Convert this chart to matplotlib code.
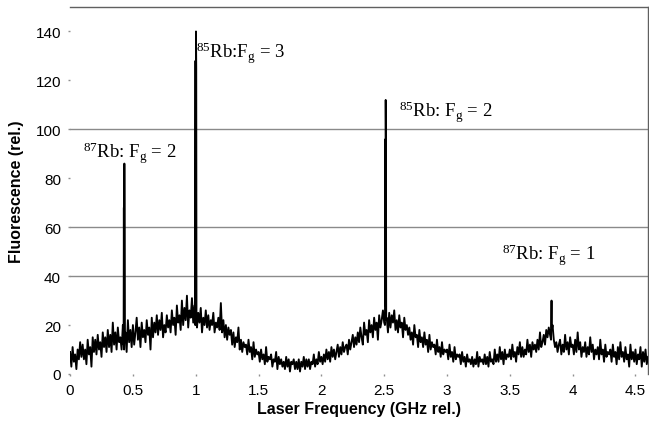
import numpy as np
import matplotlib
matplotlib.use("Agg")
import matplotlib.pyplot as plt

# ---------------- data ----------------
freq_start = 0.0
freq_step = 0.01
background = [
    9, 3, 11, 5, 8, 2, 10, 6, 13, 7,
    12, 6, 10, 4, 14, 8, 11, 3, 15, 9,
    14, 8, 16, 10, 13, 7, 17, 11, 15, 9,
    18, 11, 16, 9, 21, 12, 17, 10, 19, 13,
    15, 10, 20, 12, 17, 9, 22, 13, 18, 11,
    20, 12, 17, 23, 14, 19, 11, 21, 15, 18,
    13, 22, 16, 19, 10, 23, 15, 21, 17, 24,
    16, 22, 18, 25, 15, 20, 17, 24, 19, 22,
    17, 26, 20, 23, 16, 28, 21, 24, 18, 30,
    20, 27, 22, 32, 19, 26, 23, 31, 21, 28,
    24, 19, 25, 21, 27, 17, 23, 20, 26, 19,
    24, 18, 22, 20, 25, 17, 21, 19, 23, 18,
    29, 17, 22, 15, 20, 14, 19, 16, 18, 12,
    17, 11, 15, 13, 19, 10, 14, 9, 13, 11,
    12, 8, 14, 9, 11, 6, 13, 7, 10, 8,
    9, 5, 10, 6, 8, 4, 11, 5, 7, 6,
    8, 3, 6, 5, 9, 2, 7, 4, 6, 3,
    5, 2, 7, 3, 6, 1, 5, 4, 6, 2,
    5, 2, 6, 1, 5, 3, 7, 2, 6, 3,
    6, 2, 5, 4, 8, 3, 6, 4, 9, 5,
    7, 4, 8, 5, 10, 6, 9, 5, 11, 7,
    10, 6, 9, 12, 7, 11, 8, 13, 9, 11,
    12, 8, 14, 10, 13, 16, 11, 15, 12, 17,
    13, 19, 15, 12, 21, 16, 18, 13, 22, 17,
    20, 15, 23, 18, 21, 14, 24, 19, 22, 26,
    21, 28, 23, 17, 25, 19, 24, 21, 26, 18,
    22, 17, 24, 19, 21, 15, 23, 18, 20, 16,
    19, 14, 17, 12, 20, 15, 16, 11, 18, 13,
    15, 11, 17, 12, 14, 9, 16, 10, 13, 11,
    12, 8, 14, 9, 11, 7, 13, 8, 10, 9,
    10, 6, 12, 7, 9, 5, 11, 6, 8, 7,
    8, 4, 9, 5, 7, 3, 8, 5, 6, 4,
    7, 3, 6, 4, 9, 3, 7, 5, 6, 4,
    8, 4, 7, 3, 9, 5, 6, 4, 10, 5,
    8, 5, 11, 6, 9, 4, 10, 6, 8, 7,
    10, 6, 12, 7, 9, 5, 11, 8, 13, 7,
    11, 7, 10, 8, 14, 9, 12, 7, 13, 10,
    12, 9, 14, 10, 17, 11, 13, 16, 12, 18,
    15, 19, 16, 23, 20, 14, 11, 13, 9, 12,
    14, 8, 12, 9, 16, 10, 13, 8, 15, 11,
    12, 8, 14, 9, 17, 10, 13, 7, 11, 9,
    13, 7, 11, 8, 15, 9, 12, 6, 10, 8,
    11, 6, 14, 8, 10, 5, 12, 7, 9, 8,
    10, 5, 12, 7, 9, 4, 11, 6, 13, 7,
    9, 5, 11, 6, 8, 3, 12, 6, 9, 5,
    10, 4, 8, 6, 11, 3, 9, 5, 10, 4,
    7,
]

# sharp resonance samples (frequency, fluorescence)
peak_freqs = [0.426, 0.428, 0.430, 0.432, 0.434, 0.436,
              0.996, 0.998, 1.000, 1.002, 1.004, 1.006,
              2.506, 2.508, 2.510, 2.512, 2.514, 2.516,
              3.828, 3.830, 3.832, 3.834]
peak_values = [12, 68, 10, 86, 45, 15,
               20, 128, 25, 140, 125, 22,
               20, 48, 96, 112, 94, 22,
               14, 23, 30, 18]

labels = [r"$^{87}$Rb: F$_\mathrm{g}$ = 2",
          r"$^{85}$Rb:F$_\mathrm{g}$ = 3",
          r"$^{85}$Rb: F$_\mathrm{g}$ = 2",
          r"$^{87}$Rb: F$_\mathrm{g}$ = 1"]
label_x = [0.10, 1.005, 2.62, 3.44]
label_y = [88.5, 129.5, 105.5, 47]

grid_values = [40, 60, 100]
yticks = [0, 20, 40, 60, 80, 100, 120, 140]
xticks = [0, 0.5, 1, 1.5, 2, 2.5, 3, 3.5, 4, 4.5]
xtick_labels = ["0", "0.5", "1", "1.5", "2", "2.5", "3", "3.5", "4", "4.5"]

# ---------------- plot ----------------
plt.rcParams["font.family"] = ["Liberation Sans", "DejaVu Sans"]
plt.rcParams["mathtext.fontset"] = "custom"
plt.rcParams["mathtext.rm"] = "Liberation Serif"
plt.rcParams["mathtext.it"] = "Liberation Serif:italic"

bg_x = freq_start + freq_step * np.arange(len(background))
x_all = np.concatenate([bg_x, np.array(peak_freqs)])
y_all = np.concatenate([np.array(background, float), np.array(peak_values, float)])
order = np.argsort(x_all, kind="stable")
x_all = x_all[order]
y_all = y_all[order]

fig = plt.figure(figsize=(6.49, 4.27), dpi=100)
ax = fig.add_axes([0.108, 0.1218, 0.8905, 0.8595])

for g in grid_values:
    ax.axhline(g, color="#8a8a8a", lw=1.0, zorder=1)

ax.plot(x_all, y_all, color="black", lw=1.35, zorder=3)

ax.set_xlim(0, 4.6)
ax.set_ylim(0, 150)
ax.set_xticks(xticks)
ax.set_xticklabels(xtick_labels)
ax.set_yticks(yticks)

for s in ["left", "bottom"]:
    ax.spines[s].set_visible(False)
for s in ["top", "right"]:
    ax.spines[s].set_color("#606060")
    ax.spines[s].set_linewidth(1.0)

ax.tick_params(axis="both", length=1.5, width=1, color="#909090",
               labelsize=11, pad=5)

ax.set_xlabel("Laser Frequency (GHz rel.)", fontsize=11.5, fontweight="bold", labelpad=3)
ax.set_ylabel("Fluorescence (rel.)", fontsize=11.5, fontweight="bold", labelpad=8)

for t, x, y in zip(labels, label_x, label_y):
    ax.text(x, y, t, fontsize=13.5, va="baseline", ha="left", zorder=4,
            family=["Liberation Serif", "DejaVu Serif"])

fig.savefig("out.png", dpi=100)
